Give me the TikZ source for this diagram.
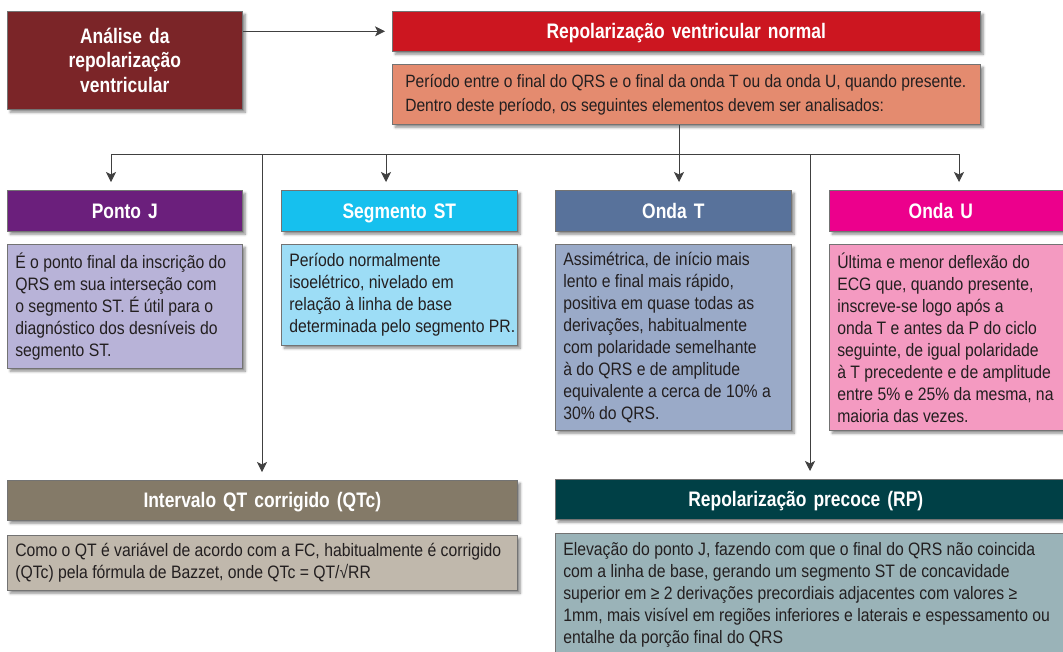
\documentclass[tikz,border=0pt]{standalone}
\usepackage{fontspec}
\setmainfont{Liberation Sans}[FakeStretch=0.875]
\newfontfamily\headfam{Liberation Sans}[FakeStretch=0.83]
\usetikzlibrary{arrows.meta,shadows.blur}

\definecolor{cAnal}{RGB}{123,37,40}
\definecolor{cRed}{RGB}{204,22,32}
\definecolor{cSalmon}{RGB}{228,139,111}
\definecolor{cPurple}{RGB}{107,31,124}
\definecolor{cLav}{RGB}{184,179,216}
\definecolor{cCyan}{RGB}{22,192,238}
\definecolor{cLBlue}{RGB}{157,221,246}
\definecolor{cSlate}{RGB}{88,114,155}
\definecolor{cSlateL}{RGB}{154,170,200}
\definecolor{cMag}{RGB}{236,0,140}
\definecolor{cPink}{RGB}{244,154,193}
\definecolor{cTaupe}{RGB}{132,122,104}
\definecolor{cTaupeL}{RGB}{192,184,172}
\definecolor{cTeal}{RGB}{0,64,70}
\definecolor{cTealL}{RGB}{154,179,184}
\definecolor{cInk}{RGB}{35,31,32}

\newcommand\txtbody{\fontsize{18}{22}\selectfont}
\newcommand\txthead{\headfam\fontsize{21}{24.5}\selectfont\bfseries}

\tikzset{
  panel/.style={draw=black!55, line width=0.6pt, anchor=north west,
    inner ysep=0pt, inner xsep=8pt,
    blur shadow={shadow xshift=3pt, shadow yshift=-3pt, shadow blur radius=2.5pt, shadow opacity=45}},
  titlebox/.style={panel, text=white, align=center, font=\txthead},
  headbox/.style={titlebox, text height=15pt, text depth=0pt},
  bodybox/.style={panel, text=cInk, align=flush left, font=\txtbody},
  link/.style={draw=black!75, line width=0.8pt},
  arr/.style={link, -{Stealth[length=10pt,width=10pt,inset=2.5pt]}, shorten >=8pt}
}

\begin{document}
\begin{tikzpicture}[x=1pt,y=-1pt]
\useasboundingbox (0,0) rectangle (1063,651);
\clip (0,0) rectangle (1063,651);

% top row
\node[titlebox, fill=cAnal, text width=219pt, minimum height=98pt] (anal) at (7,11)
  {Análise da\\repolarização\\ventricular};
\node[headbox, fill=cRed, text width=572pt, minimum height=40pt] (red) at (392,11)
  {Repolarização ventricular normal};
\node[bodybox, fill=cSalmon, text width=562pt, inner xsep=13pt, minimum height=60pt,
      font=\fontsize{17.8}{24}\selectfont] (per) at (392,64)
  {Período entre o final do QRS e o final da onda T ou da onda U, quando presente.\\
   Dentro deste período, os seguintes elementos devem ser analisados:};

% four elements
\node[headbox, fill=cPurple, text width=219pt, minimum height=41pt] (pjh) at (7,190) {Ponto J};
\node[bodybox, fill=cLav, text width=219pt, minimum height=124pt] (pjb) at (7,244)
  {É o ponto final da inscrição do\\QRS em sua interseção com\\o segmento ST. É útil para o\\diagnóstico dos desníveis do\\segmento ST.};

\node[headbox, fill=cCyan, text width=220pt, minimum height=41pt] (sth) at (281,190) {Segmento ST};
\node[bodybox, fill=cLBlue, text width=220pt, minimum height=101pt] (stb) at (281,244)
  {Período normalmente\\isoelétrico, nivelado em\\relação à linha de base\\\mbox{determinada pelo segmento PR.}};

\node[headbox, fill=cSlate, text width=220pt, minimum height=41pt] (oth) at (555,190) {Onda T};
\node[bodybox, fill=cSlateL, text width=220pt, minimum height=186pt] (otb) at (555,244)
  {Assimétrica, de início mais\\lento e final mais rápido,\\positiva em quase todas as\\derivações, habitualmente\\com polaridade semelhante\\à do QRS e de amplitude\\equivalente a cerca de 10\% a\\30\% do QRS.};

\node[headbox, fill=cMag, text width=225pt, minimum height=41pt] (ouh) at (829,190) {\hspace*{-18pt}Onda U};
\node[bodybox, fill=cPink, text width=225pt, minimum height=186pt] (oub) at (829,244)
  {Última e menor deflexão do\\ECG que, quando presente,\\inscreve-se logo após a\\onda T e antes da P do ciclo\\seguinte, de igual polaridade\\à T precedente e de amplitude\\entre 5\% e 25\% da mesma, na\\maioria das vezes.};

% bottom row
\node[headbox, fill=cTaupe, text width=494pt, minimum height=40pt] (qth) at (7,480) {Intervalo QT corrigido (QTc)};
\node[bodybox, fill=cTaupeL, text width=494pt, minimum height=55pt] (qtb) at (7,535)
  {Como o QT é variável de acordo com a FC, habitualmente é corrigido\\(QTc) pela fórmula de Bazzet, onde QTc = QT/√RR};

\node[headbox, fill=cTeal, text width=499pt, minimum height=40pt] (rph) at (555,479) {\hspace*{-14pt}Repolarização precoce (RP)};
\node[bodybox, fill=cTealL, text width=499pt, minimum height=124pt] (rpb) at (555,533)
  {Elevação do ponto J, fazendo com que o final do QRS não coincida\\com a linha de base, gerando um segmento ST de concavidade\\superior em ≥ 2 derivações precordiais adjacentes com valores ≥\\1mm, mais visível em regiões inferiores e laterais e espessamento ou\\entalhe da porção final do QRS};

% connectors
\draw[arr, shorten >=7pt] (anal.east |- red.west) -- (red.west);

\coordinate (bT)  at (679,154);
\coordinate (bJ)  at (111,154);
\coordinate (bQ)  at (262,154);
\coordinate (bST) at (386,154);
\coordinate (bRP) at (810,154);
\coordinate (bU)  at (959,154);

\draw[link] (bT |- per.south) -- (bT);
\draw[link] (bJ) -- (bU);
\draw[arr] (bJ)  -- (bJ |- pjh.north);
\draw[arr] (bST) -- (bST |- sth.north);
\draw[arr] (bT)  -- (bT |- oth.north);
\draw[arr] (bU)  -- (bU |- ouh.north);
\draw[arr] (bQ)  -- (bQ |- qth.north);
\draw[arr] (bRP) -- (bRP |- rph.north);
\end{tikzpicture}
\end{document}
